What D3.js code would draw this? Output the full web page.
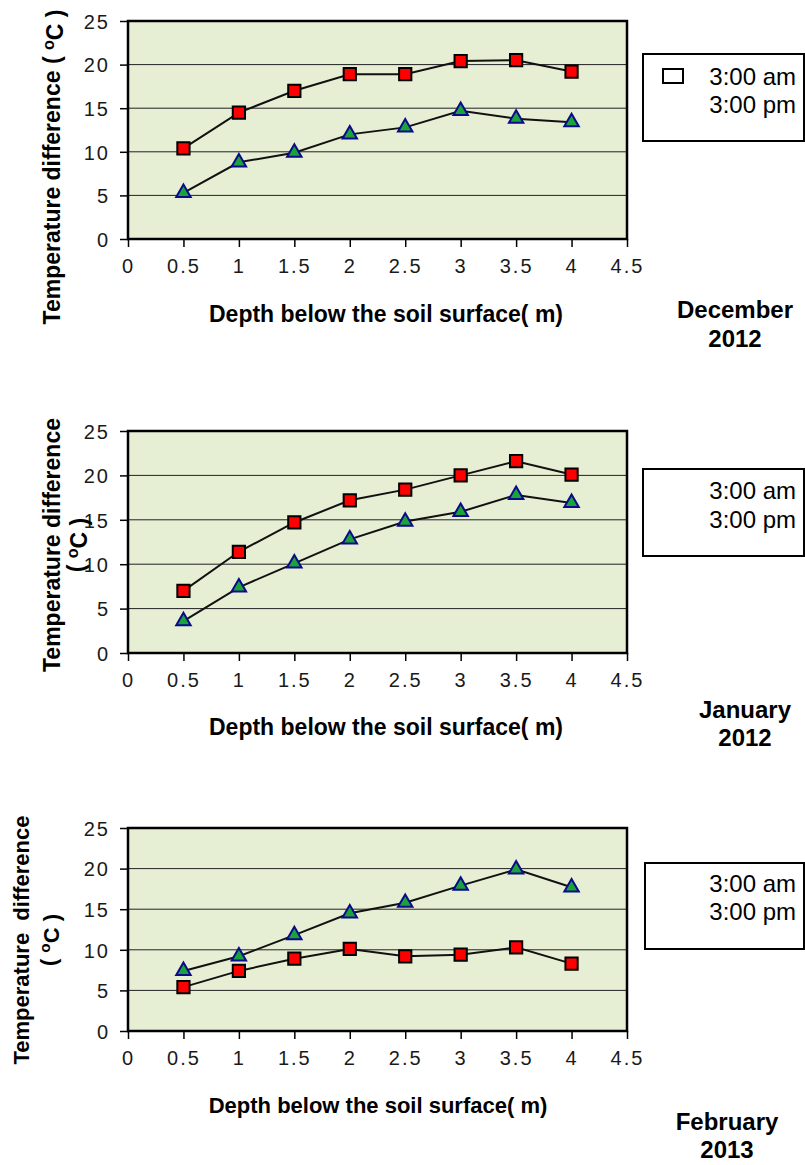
<!DOCTYPE html>
<html lang="en">
<head>
    <meta charset="UTF-8">
    <title>Temperature difference vs depth</title>
    <style>
        body { margin: 0; background: #fff; }
        svg text { font-family: "Liberation Sans", Arial, sans-serif; fill: #000; }
        .tick-label { font-size: 20px; letter-spacing: 2px; fill: #1a1a1a; }
        .axis-title { font-size: 23px; font-weight: bold; }
        .month { font-size: 24px; font-weight: bold; }
        .legend-text { font-size: 24px; }
    </style>
</head>
<body>
<div id="chart"></div>
<script src="https://d3js.org/d3.v7.min.js"></script>
<script>
    // depth below the soil surface (m)
    const depths = [0.5, 1, 1.5, 2, 2.5, 3, 3.5, 4];
    const xTicks = [0, 0.5, 1, 1.5, 2, 2.5, 3, 3.5, 4, 4.5];
    const yTicks = [0, 5, 10, 15, 20, 25];
    const seriesNames = ["3:00 am", "3:00 pm"];
    const monthLabels = [["December", "2012"], ["January", "2012"], ["February", "2013"]];

    // temperature difference (oC), squares = 3:00 am, triangles = 3:00 pm
    const dec2012Am = [10.4, 14.5, 17.0, 18.9, 18.9, 20.4, 20.5, 19.2];
    const dec2012Pm = [5.3, 8.8, 9.9, 12.0, 12.8, 14.7, 13.8, 13.4];
    const jan2012Am = [7.0, 11.4, 14.7, 17.2, 18.4, 20.0, 21.6, 20.1];
    const jan2012Pm = [3.6, 7.4, 10.1, 12.8, 14.8, 15.9, 17.8, 16.9];
    const feb2013Am = [5.4, 7.4, 8.9, 10.1, 9.2, 9.4, 10.3, 8.3];
    const feb2013Pm = [7.4, 9.2, 11.8, 14.5, 15.8, 17.9, 19.9, 17.7];

    const amValues = [dec2012Am, jan2012Am, feb2013Am];
    const pmValues = [dec2012Pm, jan2012Pm, feb2013Pm];

    // layout of each panel (pixels)
    const panels = [
        {top: 21, bottom: 239, tickY: 273, titleX: 386, titleY: 322, titleSize: 23,
         legend: [643, 54, 161, 87], legendY: [85, 113], legendMark: true,
         month: [735, 318, 347], yTitle: [["Temperature difference ( ", "o", "C )"]], yTitleX: [60], yTitleY: 167, yTitleSize: 23},
        {top: 431, bottom: 653, tickY: 687, titleX: 386, titleY: 735, titleSize: 23,
         legend: [643, 469, 161, 87], legendY: [499, 528], legendMark: false,
         month: [745, 718, 746], yTitle: [["Temperature difference"], ["( ", "o", "C )"]], yTitleX: [60, 84], yTitleY: 545, yTitleSize: 23},
        {top: 828, bottom: 1031, tickY: 1065, titleX: 378, titleY: 1113, titleSize: 22,
         legend: [645, 863, 159, 86], legendY: [892, 920], legendMark: false,
         month: [727, 1130, 1158], yTitle: [["Temperature\u00a0\u00a0difference"], ["( ", "o", "C )"]], yTitleX: [29, 56], yTitleY: 940, yTitleSize: 22}
    ];

    const svg = d3.select("#chart").append("svg")
        .attr("width", 805)
        .attr("height", 1165);

    const x = d3.scaleLinear().domain([0, 4.5]).range([128, 627]);

    panels.forEach((p, i) => {
        const y = d3.scaleLinear().domain([0, 25]).range([p.bottom, p.top]);
        const g = svg.append("g");

        // plot background
        g.append("rect")
            .attr("x", x(0)).attr("y", y(25))
            .attr("width", x(4.5) - x(0)).attr("height", y(0) - y(25))
            .attr("fill", "#e6eed4");

        // gridlines
        g.selectAll(".grid")
            .data(yTicks.filter(t => t > 0 && t < 25))
            .enter().append("line")
            .attr("x1", x(0)).attr("x2", x(4.5))
            .attr("y1", d => y(d)).attr("y2", d => y(d))
            .attr("stroke", "#222").attr("stroke-width", 1);

        // y axis
        const yAxis = g.append("g")
            .attr("transform", "translate(" + x(0) + ",0)")
            .call(d3.axisLeft(y).tickValues(yTicks).tickSize(8).tickPadding(10).tickSizeOuter(0));
        yAxis.select(".domain").remove();
        yAxis.selectAll("line").attr("stroke", "#000").attr("stroke-width", 1.5);
        yAxis.selectAll("text").attr("class", "tick-label").attr("font-size", null).attr("font-family", null)
            .attr("fill", null).attr("dy", "0.36em");

        // x axis
        const xAxis = g.append("g")
            .attr("transform", "translate(0," + y(0) + ")")
            .call(d3.axisBottom(x).tickValues(xTicks).tickFormat(d => String(d)).tickSize(8).tickSizeOuter(0));
        xAxis.select(".domain").remove();
        xAxis.selectAll("line").attr("stroke", "#000").attr("stroke-width", 1.5);
        xAxis.selectAll("text").attr("class", "tick-label").attr("font-size", null).attr("font-family", null)
            .attr("fill", null).attr("dy", null)
            .attr("y", p.tickY - y(0));

        // plot border
        g.append("rect")
            .attr("x", x(0)).attr("y", y(25))
            .attr("width", x(4.5) - x(0)).attr("height", y(0) - y(25))
            .attr("fill", "none").attr("stroke", "#000").attr("stroke-width", 2.5);

        const line = d3.line()
            .x((d, j) => x(depths[j]))
            .y(d => y(d));

        [pmValues[i], amValues[i]].forEach(vals => {
            g.append("path")
                .datum(vals)
                .attr("d", line)
                .attr("fill", "none")
                .attr("stroke", "#111")
                .attr("stroke-width", 2);
        });

        // 3:00 pm triangles
        g.selectAll(".tri")
            .data(pmValues[i])
            .enter().append("path")
            .attr("transform", (d, j) => "translate(" + x(depths[j]) + "," + y(d) + ")")
            .attr("d", d3.symbol().type(d3.symbolTriangle).size(90))
            .attr("fill", "#1aa33a")
            .attr("stroke", "#0a0a8a")
            .attr("stroke-width", 2);

        // 3:00 am squares
        g.selectAll(".sq")
            .data(amValues[i])
            .enter().append("path")
            .attr("transform", (d, j) => "translate(" + x(depths[j]) + "," + y(d) + ")")
            .attr("d", d3.symbol().type(d3.symbolSquare).size(150))
            .attr("fill", "#ff0000")
            .attr("stroke", "#000")
            .attr("stroke-width", 2);

        // x title
        g.append("text")
            .attr("class", "axis-title")
            .attr("x", p.titleX).attr("y", p.titleY)
            .attr("text-anchor", "middle")
            .style("font-size", p.titleSize + "px")
            .text("Depth below the soil surface( m)");

        // y title
        p.yTitle.forEach((parts, k) => {
            const t = g.append("text")
                .attr("class", "axis-title")
                .attr("text-anchor", "middle")
                .style("font-size", p.yTitleSize + "px")
                .attr("transform", "translate(" + p.yTitleX[k] + "," + p.yTitleY + ") rotate(-90)");
            if (parts.length === 1) {
                t.text(parts[0]);
            } else {
                t.append("tspan").text(parts[0]);
                t.append("tspan").attr("dy", "-0.4em").style("font-size", "0.7em").text(parts[1]);
                t.append("tspan").attr("dy", "0.4em").text(parts[2]);
            }
        });

        // legend
        const lg = g.append("g");
        lg.append("rect")
            .attr("x", p.legend[0]).attr("y", p.legend[1])
            .attr("width", p.legend[2]).attr("height", p.legend[3])
            .attr("fill", "#fff").attr("stroke", "#000").attr("stroke-width", 2);
        if (p.legendMark) {
            lg.append("rect")
                .attr("x", 663).attr("y", p.legend[1] + 15)
                .attr("width", 20).attr("height", 14)
                .attr("fill", "#fff").attr("stroke", "#000").attr("stroke-width", 2);
        }
        seriesNames.forEach((name, k) => {
            lg.append("text")
                .attr("class", "legend-text")
                .attr("x", 796).attr("y", p.legendY[k])
                .attr("text-anchor", "end")
                .text(name);
        });

        // month label
        monthLabels[i].forEach((s, k) => {
            g.append("text")
                .attr("class", "month")
                .attr("x", p.month[0]).attr("y", p.month[1 + k])
                .attr("text-anchor", "middle")
                .text(s);
        });
    });
</script>
</body>
</html>
